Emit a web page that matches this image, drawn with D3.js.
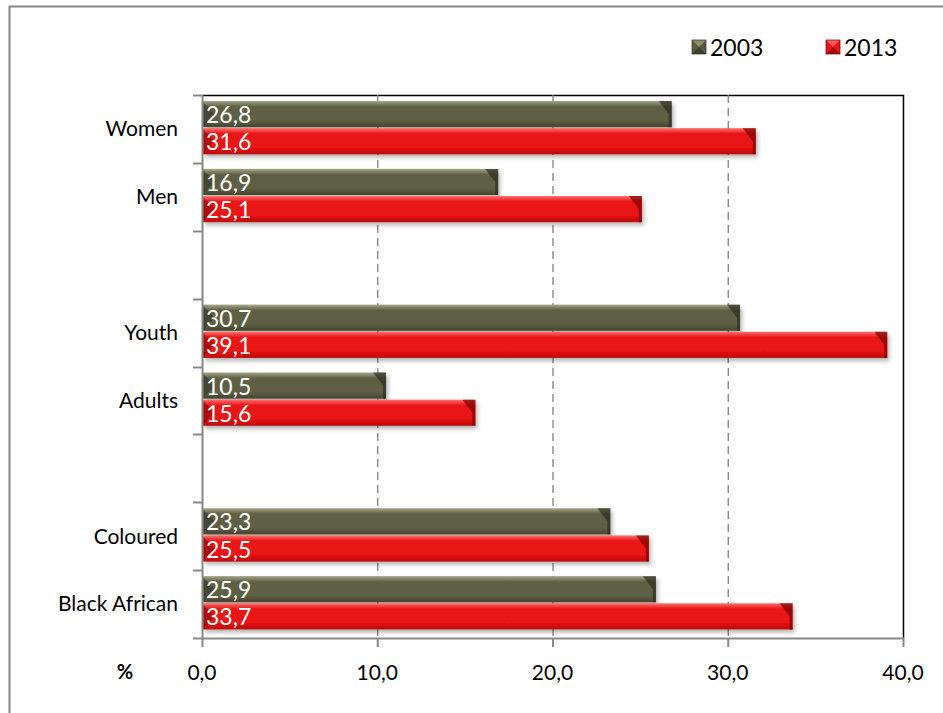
<!DOCTYPE html>
<html><head><meta charset="utf-8">
<script src="https://cdn.jsdelivr.net/npm/d3@7"></script>
<style>body{margin:0;background:#fff;font-family:Lato,"Open Sans",sans-serif;}</style>
</head><body>
<svg id="c" width="943" height="713"></svg>
<script>
const categories = ["Women","Men","","Youth","Adults","","Coloured","Black African"];
const series = ["2003","2013"];
const values2003 = [26.8,16.9,null,30.7,10.5,null,23.3,25.9];
const values2013 = [31.6,25.1,null,39.1,15.6,null,25.5,33.7];
const xTicks = [0,10,20,30,40];
const axisUnit = "%";

const svg = d3.select("#c");
const defs = svg.append("defs");
const m = {l:202, r:903, t:95, b:638};

const grads = {
  "2003": {top:"#a5a588", mid:"#5e5e45", bot:"#45452f", edge:"#2e2e22"},
  "2013": {top:"#ff7070", mid:"#e81212", bot:"#b80808", edge:"#7a0000"}
};
Object.entries(grads).forEach(([k,g],i)=>{
  const lg = defs.append("linearGradient").attr("id","g"+k).attr("x1",0).attr("x2",0).attr("y1",0).attr("y2",1);
  lg.append("stop").attr("offset","0").attr("stop-color",g.top);
  lg.append("stop").attr("offset","0.22").attr("stop-color",g.mid);
  lg.append("stop").attr("offset","0.75").attr("stop-color",g.mid);
  lg.append("stop").attr("offset","1").attr("stop-color",g.bot);
});
const f = defs.append("filter").attr("id","sh").attr("x","-5%").attr("y","-20%").attr("width","115%").attr("height","160%");
f.append("feDropShadow").attr("dx",2).attr("dy",3).attr("stdDeviation",2).attr("flood-color","#000").attr("flood-opacity",0.3);

// outer frame
svg.append("path").attr("d","M9.5,713 V6.5 H943").attr("fill","none").attr("stroke","#888").attr("stroke-width",2);

const x = d3.scaleLinear().domain([0,40]).range([m.l,m.r]);
const ySlot = d3.scaleBand().domain(d3.range(categories.length)).range([m.t,m.b]);
const barBand = ySlot.step()*0.8;
const sub = d3.scaleBand().domain(series).range([0,barBand]);

// plot frame top/right
svg.append("path").attr("d",`M${m.l},${m.t+0.5} H${m.r+0.5} V${m.b}`).attr("fill","none").attr("stroke","#000").attr("stroke-width",1.5);

// gridlines
svg.append("g").selectAll("line").data(xTicks.filter(t=>t>0&&t<40)).join("line")
  .attr("x1",d=>x(d)+0.5).attr("x2",d=>x(d)+0.5).attr("y1",m.t).attr("y2",m.b)
  .attr("stroke","#808080").attr("stroke-width",1.3).attr("stroke-dasharray","8,5");

// bars
const data = [];
categories.forEach((c,i)=>{
  if(values2003[i]!=null) data.push({i,s:"2003",v:values2003[i]});
  if(values2013[i]!=null) data.push({i,s:"2013",v:values2013[i]});
});
const bars = svg.append("g").selectAll("g").data(data).join("g");
bars.each(function(d){
  const g = d3.select(this);
  const x0 = x(0)+1, x1 = x(d.v), y0 = ySlot(d.i)+6 + sub(d.s), h = sub.bandwidth()-1;
  const col = grads[d.s];
  g.append("rect").attr("x",x0).attr("y",y0).attr("width",x1-x0).attr("height",h)
    .attr("fill","url(#g"+d.s+")").attr("filter","url(#sh)");
  // left bevel triangle
  g.append("path").attr("d",`M${x0},${y0+1} L${x0+12},${y0+h*0.5} L${x0},${y0+h-1} Z`).attr("fill",col.edge).attr("opacity",0.5);
  // right bevel
  g.append("path").attr("d",`M${x1-13},${y0} L${x1},${y0} L${x1},${y0+h} L${x1-3},${y0+h} L${x1-3},${y0+13} Z`).attr("fill",col.edge).attr("opacity",0.7);
  g.append("text").attr("x",x0+3).attr("y",y0+h/2+1).attr("dy","0.35em")
    .attr("fill","#fff").attr("font-size",23).text(d3.format(".1f")(d.v).replace(".",","));
});

// axes lines
svg.append("line").attr("x1",m.l+0.5).attr("x2",m.l+0.5).attr("y1",m.t).attr("y2",m.b).attr("stroke","#888").attr("stroke-width",2);
svg.append("line").attr("x1",m.l).attr("x2",m.r+1).attr("y1",m.b+0.5).attr("y2",m.b+0.5).attr("stroke","#888").attr("stroke-width",2);
// y ticks at boundaries
svg.append("g").selectAll("line").data(d3.range(categories.length+1)).join("line")
  .attr("x1",m.l-9).attr("x2",m.l).attr("y1",d=>Math.round(m.t+d*ySlot.step())+0.5).attr("y2",d=>Math.round(m.t+d*ySlot.step())+0.5)
  .attr("stroke","#888").attr("stroke-width",2);
// x ticks
svg.append("g").selectAll("line").data(xTicks).join("line")
  .attr("x1",d=>x(d)+0.5).attr("x2",d=>x(d)+0.5).attr("y1",m.b).attr("y2",m.b+9)
  .attr("stroke","#888").attr("stroke-width",2);
svg.append("g").selectAll("text").data(xTicks).join("text")
  .attr("x",d=>x(d)).attr("y",673).attr("dy","0.35em").attr("text-anchor","middle")
  .attr("font-size",21).attr("fill","#000").text(d=>d3.format(".1f")(d).replace(".",","));
svg.append("text").attr("x",125).attr("y",672).attr("dy","0.35em").attr("text-anchor","middle")
  .attr("font-size",20).attr("font-weight","bold").text(axisUnit);
// category labels
svg.append("g").selectAll("text").data(categories).join("text")
  .attr("x",178).attr("y",(d,i)=>ySlot(i)+ySlot.step()/2).attr("dy","0.35em").attr("text-anchor","end")
  .attr("font-size",21).attr("fill","#000").text(d=>d);

// legend
const lx = [692, 826];
series.forEach((s,i)=>{
  const g = svg.append("g").attr("transform",`translate(${lx[i]},40)`);
  const col = grads[s];
  g.append("rect").attr("width",14).attr("height",14).attr("fill",s==="2003"?"#5a5a42":"#e81414");
  g.append("path").attr("d","M0,0 L14,0 L7,7 Z").attr("fill",s==="2003"?"#8e8e70":"#ff5a5a");
  g.append("path").attr("d","M0,14 L14,14 L7,7 Z").attr("fill",col.edge).attr("opacity",0.6);
  g.append("rect").attr("width",14).attr("height",14).attr("fill","none").attr("stroke",col.edge).attr("stroke-width",0.7);
  g.append("text").attr("x",18).attr("y",7).attr("dy","0.37em").attr("font-size",23).attr("fill","#000").text(s);
});
</script>
</body></html>
